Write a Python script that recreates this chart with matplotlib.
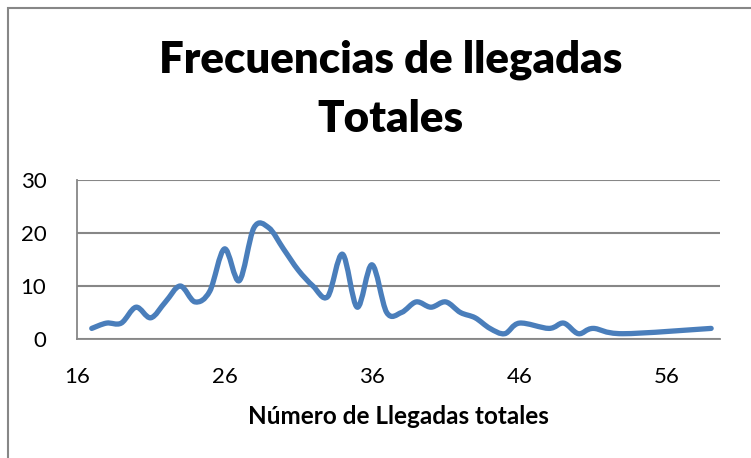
import matplotlib
matplotlib.use('Agg')
import matplotlib.pyplot as plt
from matplotlib.path import Path
from matplotlib.patches import PathPatch, Rectangle
import numpy as np

plt.rcParams['font.family'] = ['Lato', 'DejaVu Sans']

llegadas = [17, 18, 19, 20, 21, 22, 23, 24, 25, 26, 27, 28, 29, 30, 31, 32, 33, 34,
            35, 36, 37, 38, 39, 40, 41, 42, 43, 44, 45, 46, 48, 49, 50, 51, 53, 59]
frecuencia = [2, 3, 3, 6, 4, 7, 10, 7, 9, 17, 11, 21, 21, 17, 13, 10, 8, 16,
              6, 14, 5, 5, 7, 6, 7, 5, 4, 2, 1, 3, 2, 3, 1, 2, 1, 2]
x_ticks = [16, 26, 36, 46, 56]
y_ticks = [0, 10, 20, 30]


def smooth_path(xs, ys):
    # curva suavizada tipo Excel (bezier con tangentes catmull-rom)
    p = np.column_stack([xs, ys]).astype(float)
    pts = np.vstack([p[0], p, p[-1]])
    verts = [tuple(p[0])]
    codes = [Path.MOVETO]
    for i in range(1, len(pts) - 2):
        c1 = pts[i] + (pts[i + 1] - pts[i - 1]) / 6
        c2 = pts[i + 1] - (pts[i + 2] - pts[i]) / 6
        verts += [tuple(c1), tuple(c2), tuple(pts[i + 1])]
        codes += [Path.CURVE4] * 3
    return Path(verts, codes)


fig = plt.figure(figsize=(7.51, 4.58), dpi=100)
ax = fig.add_axes([77 / 751, 1 - 339 / 458, (720 - 77) / 751, (339 - 180) / 458])

ax.add_patch(PathPatch(smooth_path(llegadas, frecuencia), fill=False,
                       edgecolor='#4A7EBB', lw=3.8, capstyle='round', joinstyle='round'))

ax.set_xlim(16, 59.6)
ax.set_ylim(0, 30)
ax.set_xticks(x_ticks)
ax.set_yticks(y_ticks)
ax.tick_params(length=0, labelsize=16, pad=20)
ax.tick_params(axis='y', pad=22)
ax.grid(axis='y', color='#878787', lw=1.5)
for s in ['top', 'right']:
    ax.spines[s].set_visible(False)
for s in ['left', 'bottom']:
    ax.spines[s].set_color('#878787')
    ax.spines[s].set_linewidth(1.3)
ax.set_axisbelow(True)

ax.set_xlabel('Número de Llegadas totales', fontsize=17.5, fontweight='bold', labelpad=13)
fig.text(0.52, 1 - 60 / 458, 'Frecuencias de llegadas', ha='center', va='center',
         fontsize=31.5, fontweight='heavy')
fig.text(0.52, 1 - 119 / 458, 'Totales', ha='center', va='center',
         fontsize=31.5, fontweight='heavy')

fig.add_artist(Rectangle((8 / 751, -0.1), 2, 1.1 - 8 / 458, transform=fig.transFigure,
                         fill=False, edgecolor='#878787', lw=1.5))

fig.savefig('out.png', dpi=100)
